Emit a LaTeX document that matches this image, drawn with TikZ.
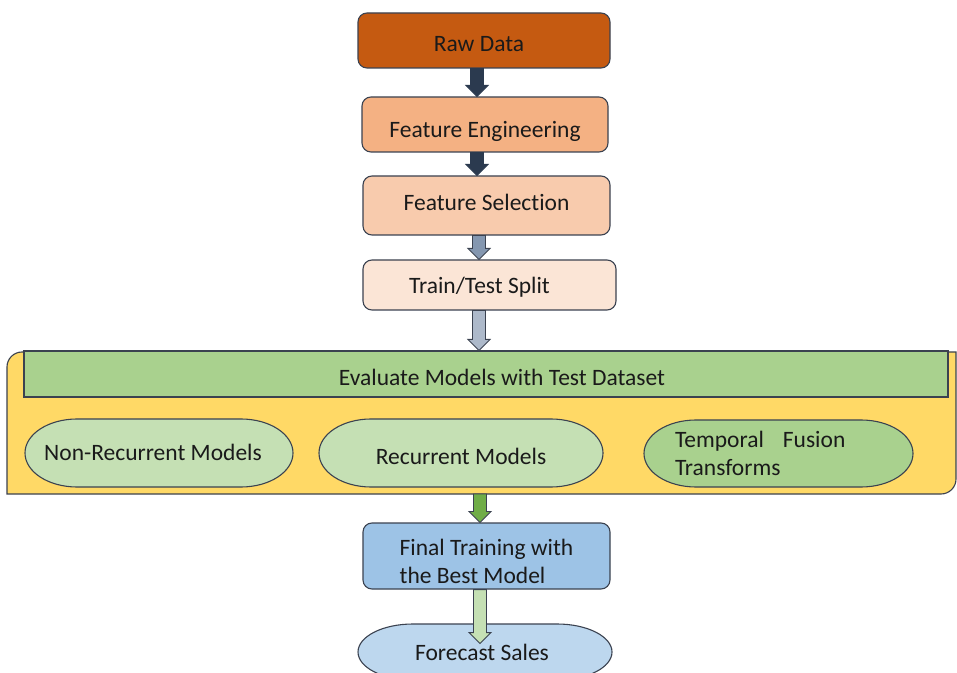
\documentclass[tikz,border=0pt]{standalone}
\usepackage{fontspec}
\setmainfont{Carlito}[Ligatures={NoCommon}]
\usetikzlibrary{calc}
\definecolor{rawc}{HTML}{C55A11}
\definecolor{fec}{HTML}{F4B183}
\definecolor{fsc}{HTML}{F8CBAD}
\definecolor{ttc}{HTML}{FBE5D6}
\definecolor{yelc}{HTML}{FFD966}
\definecolor{grnc}{HTML}{A9D18E}
\definecolor{lgrnc}{HTML}{C5E0B4}
\definecolor{bluec}{HTML}{9DC3E6}
\definecolor{lbluec}{HTML}{BDD7EE}
\definecolor{edgec}{HTML}{3B4250}
\definecolor{navyc}{HTML}{2B3A4F}
\definecolor{slatec}{HTML}{8497B0}
\definecolor{lslatec}{HTML}{ADB9CA}
\definecolor{arrgrn}{HTML}{70AD47}
\definecolor{txtc}{HTML}{1A1A1A}
\newcommand{\ovalbox}[9]{%
  \fill[#7, draw=edgec, line width=1.1pt] ({#2-#4/2+#6},{#3-#5/2}) -- ({#2+#4/2-#6},{#3-#5/2})
    arc[start angle=-90,end angle=90,x radius=#6,y radius={#5/2}] -- ({#2-#4/2+#6},{#3+#5/2})
    arc[start angle=90,end angle=270,x radius=#6,y radius={#5/2}] -- cycle;
  \node[ovaltext, #9] (#1) at (#2,#3) {#8};}
\newcommand{\blockarrow}[5]{%
  \path[fill=#4, draw=#5, line width=0.9pt] let \p1=(#1), \p2=(#2) in
   (#3-6.5,\y1) -- (#3+6.5,\y1) -- (#3+6.5,\y2+11) -- (#3+11,\y2+11) -- (#3,\y2)
   -- (#3-11,\y2+11) -- (#3-6.5,\y2+11) -- cycle;}
\begin{document}
\begin{tikzpicture}[x=1pt,y=1pt,
  stepbox/.style={draw=edgec, line width=1.1pt, rounded corners=9pt, text=txtc,
    font=\fontsize{23.5}{28}\selectfont, inner sep=0pt},
  ovaltext/.style={text=txtc, font=\fontsize{23.5}{28}\selectfont, inner sep=0pt}]
\useasboundingbox (0,0) rectangle (957,672);
\clip (0,0) rectangle (957,672);
\fill[white] (0,0) rectangle (957,672);

% boxes
\node[stepbox, fill=rawc, minimum width=252, minimum height=55, text height=22.2pt, text depth=0pt] (raw) at (484,631.5) {Raw Data\hspace*{10pt}};
\node[stepbox, fill=fec, minimum width=246, minimum height=55, text height=25.2pt, text depth=0pt] (fe) at (485,547.5) {Feature Engineering};
\node[stepbox, fill=fsc, minimum width=247, minimum height=59, text height=15.2pt, text depth=6pt] (fs) at (486.5,466.5) {Feature Selection};
\node[stepbox, fill=ttc, minimum width=253, minimum height=50, text height=17.2pt, text depth=0pt] (tt) at (489.5,387) {Train/Test Split\hspace*{20pt}};

% evaluation container
\fill[yelc, draw=edgec, line width=1.1pt] (7,178) -- (941,178) arc[start angle=-90,end angle=0,radius=15]
  -- (956,320) -- (22,320) arc[start angle=90,end angle=180,radius=15] -- cycle;
\coordinate (evalbot) at (480,178);
\node[draw=edgec, line width=1.1pt, fill=grnc, minimum width=924, minimum height=46, inner sep=0pt,
  text height=24pt, text depth=0pt,
  text=txtc, font=\fontsize{23.5}{28}\selectfont] (evalbar) at (486,298) {\hspace*{32pt}Evaluate Models with Test Dataset};

\ovalbox{nonrec}{159}{219}{268}{68}{52}{lgrnc}{Non-Recurrent Models\hspace*{12pt}}{yshift=1}
\ovalbox{rec}{461}{219}{284}{68}{52}{lgrnc}{Recurrent Models}{yshift=-3}
\ovalbox{tft}{778.5}{218.5}{269}{67}{52}{grnc}{Temporal\hspace{19pt}Fusion\\Transforms}{align=left, text width=207}

\node[stepbox, fill=bluec, minimum width=247, minimum height=66] (final) at (486.5,116) {};
\node[ovaltext, align=left] (finaltxt) at ($(final.center)+(0,-5)$) {Final Training with\\the Best Model};
\ovalbox{forecast}{485}{20}{254}{56}{55}{lbluec}{Forecast Sales\hspace*{6pt}}{}

% arrows
\blockarrow{raw.south}{fe.north}{477}{navyc}{navyc}
\blockarrow{fe.south}{fs.north}{477}{navyc}{navyc}
\blockarrow{fs.south}{tt.north}{479}{slatec}{edgec}
\blockarrow{tt.south}{evalbar.north}{479}{lslatec}{edgec}
\blockarrow{evalbot}{final.north}{480}{arrgrn}{edgec}
\blockarrow{final.south}{forecast.north}{480}{lgrnc}{edgec}
\end{tikzpicture}
\end{document}
